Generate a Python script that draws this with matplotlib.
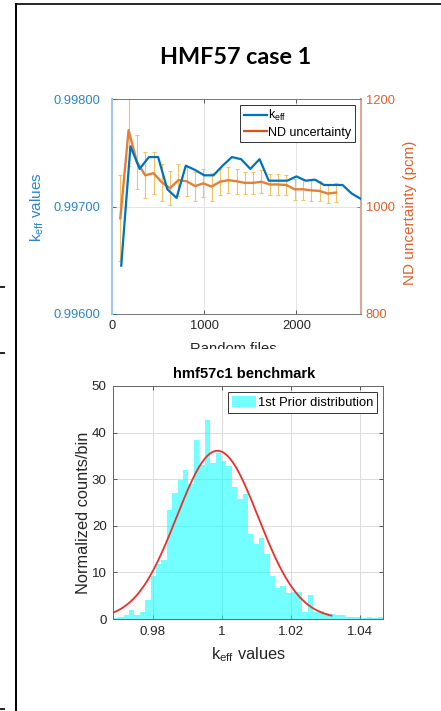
import numpy as np
import matplotlib
matplotlib.use("Agg")
import matplotlib.pyplot as plt
from matplotlib.lines import Line2D
from matplotlib.patches import Rectangle, Patch
from matplotlib.ticker import FormatStrFormatter

plt.rcParams['font.family'] = ['Liberation Sans', 'DejaVu Sans']
plt.rcParams['mathtext.default'] = 'regular'

# keff convergence against number of random files
files_keff = [100, 200, 300, 400, 500, 600, 700, 800, 900, 1000, 1100, 1200, 1300, 1400,
              1500, 1600, 1700, 1800, 1900, 2000, 2100, 2200, 2300, 2400, 2500, 2600, 2700]
keff = [0.99645, 0.99756, 0.99735, 0.99746, 0.99746, 0.99716, 0.99708, 0.99738, 0.99734,
        0.99729, 0.99729, 0.99738, 0.99746, 0.99744, 0.99735, 0.99744, 0.99724, 0.99724,
        0.99724, 0.99728, 0.99724, 0.99725, 0.99720, 0.99720, 0.99720, 0.99712, 0.99707]

# ND uncertainty (pcm) with its spread
files_unc = [90, 180, 270, 360, 450, 540, 630, 720, 810, 900, 990, 1080, 1170, 1260,
             1350, 1440, 1530, 1620, 1710, 1800, 1890, 1980, 2070, 2160, 2250, 2340, 2430]
nd_unc = [978, 1142, 1083, 1058, 1062, 1045, 1034, 1049, 1047, 1038, 1043, 1037, 1046, 1049,
          1047, 1044, 1044, 1046, 1041, 1041, 1040, 1032, 1032, 1030, 1029, 1024, 1026]
nd_unc_err = [80, 66, 50, 43, 39, 35, 32, 29.5, 27, 27, 26, 26, 24, 24,
              23, 21, 21, 21, 19, 19, 19, 19.5, 19, 19, 18.5, 18, 18]

# hmf57c1 prior distribution, normalized counts in 50 bins
hist_range = (0.9684, 1.0467)
hist_counts = [0.3, 0.4, 0.9, 1.9, 0.9, 1.4, 4.1, 9.2, 11.8, 12.6,
               23.4, 27.1, 29.8, 31.9, 29.0, 38.4, 33.0, 42.8, 33.5, 35.7,
               34.0, 32.8, 28.3, 25.7, 26.8, 18.2, 16.0, 17.4, 14.0, 9.2,
               6.6, 7.1, 5.6, 5.9, 5.9, 1.4, 5.1, 1.4, 1.7, 1.2,
               1.0, 0.9, 0.8, 0.4, 0.4, 0.4, 0.2, 0.5, 0.3, 0.4]

# normal fit of the prior
fit_mu = 0.9987
fit_sigma = 0.0118
fit_peak = 36.1
fit_range = (0.9650, 1.0317)

BLUE = '#0072BD'
ORANGE = '#D95319'
GOLD = '#F0C461'
DARK = '#262626'

W, H = 441, 711
fig = plt.figure(figsize=(W / 100, H / 100), dpi=100)


def box(l, t, r, b):
    return [l / W, 1 - b / H, (r - l) / W, (b - t) / H]


# ---- top: keff and ND uncertainty ----
ax2 = fig.add_axes(box(112, 99, 361, 314))
ax = ax2.twinx()
ax.yaxis.tick_left()
ax.yaxis.set_label_position('left')
ax2.yaxis.tick_right()
ax.set_zorder(ax2.get_zorder() + 1)
ax.patch.set_visible(False)

for t in [1000, 2000]:
    ax2.axvline(t, color='#e3e3e3', lw=0.7, zorder=0)
ax2.axhline(1000, color='#e3e3e3', lw=0.7, zorder=0)

ax2.errorbar(files_unc, nd_unc, yerr=nd_unc_err, color='#E2803A', lw=1.7,
             ecolor=GOLD, elinewidth=0.8, capsize=1.6, capthick=0.8)
ax.plot(files_keff, keff, color=BLUE, lw=1.6)

ax.set_xlim(0, 2700)
ax.set_ylim(0.996, 0.998)
ax.set_yticks([0.996, 0.997, 0.998])
ax.yaxis.set_major_formatter(FormatStrFormatter('%.5f'))
ax2.set_ylim(800, 1200)
ax2.set_yticks([800, 1000, 1200])
ax2.set_xticks([0, 1000, 2000])
ax2.tick_params(axis='x', direction='in', top=True, length=3, width=0.6,
                color='#444444', labelcolor=DARK, labelsize=9.3, pad=4)
ax.tick_params(axis='y', direction='in', length=3, width=0.6, color=BLUE,
               labelcolor='#2c85ca', labelsize=9.3, pad=8.5)
ax2.tick_params(axis='y', direction='in', length=3, width=0.6, color=ORANGE,
                labelcolor='#e0602a', labelsize=9.3, pad=3.4)
ax.tick_params(axis='x', bottom=False, labelbottom=False)

for s in ['top', 'bottom']:
    ax2.spines[s].set_color('#777777')
    ax2.spines[s].set_linewidth(0.7)
    ax.spines[s].set_visible(False)
ax2.spines['left'].set_visible(False)
ax.spines['right'].set_visible(False)
ax.spines['left'].set_color('#a3c6e8')
ax.spines['left'].set_linewidth(1.5)
ax2.spines['right'].set_color('#d9a898')
ax2.spines['right'].set_linewidth(1.5)

handles = [Line2D([], [], color=BLUE, lw=1.6), Line2D([], [], color=ORANGE, lw=1.6)]
ax.legend(handles, ['$k_{eff}$', 'ND uncertainty'], loc='upper right', fontsize=9,
          fancybox=False, edgecolor='#333333', framealpha=1, borderaxespad=0.45,
          handlelength=1.9, handletextpad=0.1, borderpad=0.3, labelspacing=0.25
          ).get_frame().set_linewidth(0.7)

fig.text(236 / W, 1 - 57 / H, 'HMF57 case 1', family='Lato', fontweight='bold',
         fontsize=16.8, ha='center', va='center', color='black')
fig.text(37 / W, 1 - 207 / H, '$k_{eff}$ values', rotation=90, ha='center', va='center',
         fontsize=11, color='#2c85ca')
fig.text(410 / W, 1 - 213 / H, 'ND uncertainty (pcm)', rotation=90, ha='center',
         va='center', fontsize=11, color='#e0602a')
fig.text(233 / W, 1 - 353 / H, 'Random files', ha='center', va='baseline',
         fontsize=10.6, color=DARK)

# ---- bottom: prior distribution ----
bx = fig.add_axes(box(112.7, 386, 383.3, 619))
edges = np.linspace(hist_range[0], hist_range[1], len(hist_counts) + 1)
bx.bar(edges[:-1], hist_counts, width=np.diff(edges), align='edge', color='cyan',
       alpha=0.55, lw=0, label='1st Prior distribution')
xs = np.linspace(fit_range[0], fit_range[1], 400)
bx.plot(xs, fit_peak * np.exp(-0.5 * ((xs - fit_mu) / fit_sigma) ** 2),
        color='#e8302c', lw=1.3)
bx.set_xlim(hist_range)
bx.set_ylim(0, 50)
bx.set_xticks([0.98, 1.0, 1.02, 1.04])
bx.set_xticklabels(['0.98', '1', '1.02', '1.04'])
bx.set_yticks(range(0, 51, 10))
bx.set_axisbelow(True)
bx.grid(color='#dcdcdc', lw=0.7)
bx.tick_params(direction='in', top=True, right=True, length=3, width=0.6,
               color='#444444', labelcolor=DARK, labelsize=9.6)
bx.tick_params(axis='y', pad=4.3)
bx.tick_params(axis='x', pad=5)
for s in bx.spines.values():
    s.set_color('#666666')
    s.set_linewidth(0.7)
leg = bx.legend(handles=[Patch(color='cyan', alpha=0.55, lw=0)],
                labels=['1st Prior distribution'], loc='upper right', fontsize=9.4,
                fancybox=False, edgecolor='#333333', framealpha=1, borderaxespad=0.45,
                handlelength=1.8, handleheight=0.9, handletextpad=0.2, borderpad=0.3)
leg.get_frame().set_linewidth(0.7)

fig.text(244 / W, 1 - 374 / H, 'hmf57c1 benchmark', ha='center', va='center',
         fontweight='bold', fontsize=10.6, color='black')
fig.text(83 / W, 1 - 513 / H, 'Normalized counts/bin', rotation=90, ha='center',
         va='center', fontsize=11.8, color=DARK)
fig.text(248 / W, 1 - 655 / H, '$k_{eff}$ values', ha='center', va='center',
         fontsize=11.8, color=DARK)

# crop line under the top panel
fig.add_artist(Rectangle((20 / W, 1 - 362 / H), 1, 13.5 / H, transform=fig.transFigure,
                         facecolor='white', edgecolor='none', zorder=5))

# page frame and margin marks
fig.add_artist(Line2D([16 / W, 16 / W], [0, 1 - 4 / H], color='black', lw=1.4,
                      transform=fig.transFigure, zorder=6))
fig.add_artist(Line2D([16 / W, 1], [1 - 4 / H, 1 - 4 / H], color='black', lw=1.2,
                      transform=fig.transFigure, zorder=6))
for y in [287, 353, 709]:
    fig.add_artist(Line2D([0, 4 / W], [1 - y / H, 1 - y / H], color='#222222', lw=1.4,
                          transform=fig.transFigure, zorder=6))

fig.savefig('out.png', dpi=100)
